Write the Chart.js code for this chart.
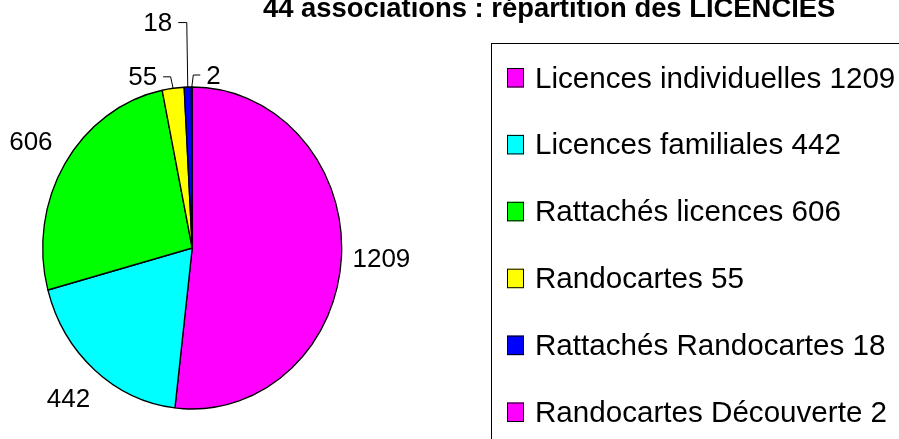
<!DOCTYPE html>
<html><head><meta charset="utf-8">
<script src="https://cdn.jsdelivr.net/npm/chart.js@4.4.0/dist/chart.umd.min.js"></script>
<style>html,body{margin:0;padding:0;background:#fff;overflow:hidden}#wrap{width:899px;height:439px;position:relative}</style>
</head><body><div id="wrap"><canvas id="c" width="899" height="439"></canvas></div>
<script>
const chartTitle = "44 associations : répartition des LICENCIES";
const categories = ["Licences individuelles","Licences familiales","Rattachés licences","Randocartes","Rattachés Randocartes","Randocartes Découverte"];
const values = [1209, 442, 606, 55, 18, 2];
const colors = ["#FF00FF","#00FFFF","#00FF00","#FFFF00","#0000FF","#FF00FF"];

const FONT = '"Liberation Sans", Arial, sans-serif';
const RX = 149.5, SY = 161 / 149.5;
// leader-line settings for the thin slices (index -> geometry)
const leaders = {3:{lean:-2.5, rise:11.5, run:-7.5}, 4:{lean:-1, rise:64.5, run:-8.5}, 5:{lean:1.5, rise:12, run:7}};

const deco = {
  id: 'deco',
  beforeDatasetsDraw(chart) {
    const a = chart.getDatasetMeta(0).data[0];
    const ctx = chart.ctx;
    ctx.save();
    ctx.translate(a.x, a.y); ctx.scale(1, SY); ctx.translate(-a.x, -a.y);
  },
  afterDatasetsDraw(chart) {
    const ctx = chart.ctx;
    ctx.restore();
    const meta = chart.getDatasetMeta(0);
    ctx.save();
    ctx.font = '26px ' + FONT;
    ctx.fillStyle = '#000';
    ctx.strokeStyle = '#000';
    ctx.lineWidth = 1;
    meta.data.forEach((arc, i) => {
      const mid = (arc.startAngle + arc.endAngle) / 2;
      const ux = Math.cos(mid), uy = Math.sin(mid);
      const r = arc.outerRadius;
      const ex = arc.x + ux * r, ey = arc.y + uy * r * SY;
      const L = leaders[i];
      const txt = String(values[i]);
      if (!L) {
        const lx = arc.x + ux * (r + 40), ly = arc.y + uy * (r * SY + 40);
        ctx.textAlign = 'center'; ctx.textBaseline = 'middle';
        ctx.fillText(txt, lx, ly);
      } else {
        const tx = ex + L.lean, ty = ey - L.rise;
        const hx = tx + L.run;
        ctx.beginPath();
        ctx.moveTo(ex, ey); ctx.lineTo(tx, ty); ctx.lineTo(hx, ty);
        ctx.stroke();
        const side = L.run < 0 ? -1 : 1;
        ctx.textAlign = side < 0 ? 'right' : 'left';
        ctx.textBaseline = 'middle';
        ctx.fillText(txt, hx + side * 6, ty + 1.5);
      }
    });
    ctx.restore();
  },
  afterDraw(chart) {
    const ctx = chart.ctx;
    ctx.save();
    // title
    ctx.font = 'bold 27.4px ' + FONT;
    ctx.fillStyle = '#000';
    ctx.textAlign = 'left'; ctx.textBaseline = 'alphabetic';
    ctx.fillText(chartTitle, 263, 17);
    // legend box
    ctx.strokeStyle = '#000'; ctx.lineWidth = 1;
    ctx.strokeRect(491.5, 43.5, 700, 700);
    ctx.font = '29.6px ' + FONT;
    categories.forEach((c, i) => {
      const base = 87.5 + i * 66.9;
      ctx.fillStyle = colors[i];
      ctx.fillRect(507, base - 19.5, 17, 19.5);
      ctx.strokeRect(507.5, base - 19, 16, 18.5);
      ctx.fillStyle = '#000';
      ctx.fillText(c + ' ' + values[i], 535, base);
    });
    ctx.restore();
  }
};

new Chart(document.getElementById('c'), {
  type: 'pie',
  data: {
    labels: categories,
    datasets: [{
      data: values,
      backgroundColor: colors,
      borderColor: '#000',
      borderWidth: 1.3
    }]
  },
  options: {
    responsive: false,
    animation: false,
    radius: RX,
    layout: { padding: { left: 0, right: 899 - 384.4, top: 57, bottom: 0 } },
    plugins: { legend: { display: false }, tooltip: { enabled: false }, title: { display: false } }
  },
  plugins: [deco]
});
</script>
</body></html>
